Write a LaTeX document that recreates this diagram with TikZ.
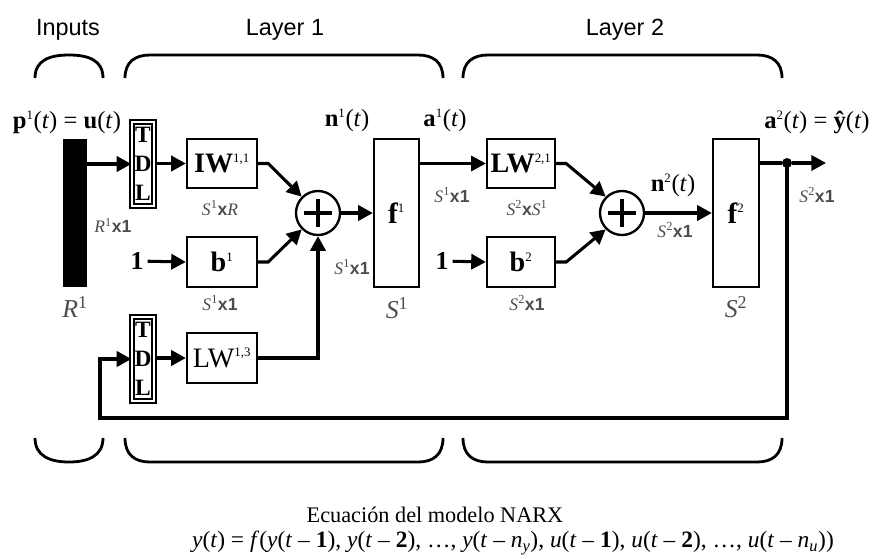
\documentclass[tikz,border=0pt]{standalone}
\usepackage{fontspec}
\setmainfont{Liberation Serif}
\setsansfont{Liberation Sans}
\usetikzlibrary{arrows.meta,calc}
\newcommand{\dimlabel}[3]{\textit{#1}\textsuperscript{#2}\textsf{\bfseries #3}}
\newcommand{\sx}[1]{\textsuperscript{\fontsize{11}{11}\selectfont\mdseries #1}}
\begin{document}
\begin{tikzpicture}[x=0.03cm,y=-0.03cm,
  wire/.style={line width=2.6pt},
  arr/.style={wire,-{Triangle[length=12.5pt,width=13pt]}},
  block/.style={draw,line width=2pt,inner sep=0pt,minimum width=2.1cm,minimum height=1.47cm,
    font=\fontsize{24}{28}\selectfont\bfseries},
  tall/.style={draw,line width=2pt,inner sep=0pt,minimum width=1.35cm,minimum height=4.44cm,
    font=\fontsize{25}{28}\selectfont\bfseries},
  tdl/.style={draw,double,line width=1.1pt,double distance=2.2pt,inner sep=0pt,
    minimum width=0.66cm,minimum height=2.52cm,align=center,
    font=\fontsize{20}{24.7}\selectfont\bfseries},
  summer/.style={draw,circle,line width=2pt,inner sep=0pt,minimum size=1.32cm},
  plus/.style={line width=2.8pt},
  brace/.style={line width=2.4pt},
  head/.style={font=\fontsize{20}{24}\selectfont\sffamily},
  sig/.style={font=\fontsize{21}{24}\selectfont},
  dim/.style={font=\fontsize{15}{17}\selectfont,text=black!70},
  big/.style={font=\fontsize{22}{24}\selectfont\itshape,text=black!70},
  one/.style={font=\fontsize{22}{24}\selectfont\bfseries}
]
\useasboundingbox (0,0) rectangle (873,558);

% headings and braces
\node[head] (hin) at (68,30) {Inputs};
\node[head] (hl1) at (285,30) {Layer 1};
\node[head] (hl2) at (625,30) {Layer 2};

\draw[brace] (35,78) .. controls (35,60) and (50,55) .. (69,55) .. controls (88,55) and (103,60) .. (103,78);
\draw[brace] (125,78) .. controls (125,62) and (135,55) .. (150,55) -- (418,55) .. controls (433,55) and (443,62) .. (443,78);
\draw[brace] (463,78) .. controls (463,62) and (473,55) .. (488,55) -- (757,55) .. controls (772,55) and (782,62) .. (782,78);

\draw[brace] (35,438) .. controls (35,456) and (50,462) .. (69,462) .. controls (88,462) and (103,456) .. (103,438);
\draw[brace] (125,438) .. controls (125,455) and (135,462) .. (150,462) -- (418,462) .. controls (433,462) and (443,455) .. (443,438);
\draw[brace] (463,438) .. controls (463,455) and (473,462) .. (488,462) -- (757,462) .. controls (772,462) and (782,455) .. (782,438);

% input vector
\node[fill=black,inner sep=0pt,minimum width=0.72cm,minimum height=4.44cm] (bar) at (75,213) {};
\node[sig] (p) at (67,122) {\textbf{p}\sx{1}(\textit{t}) = \textbf{u}(\textit{t})};
\node[big] (R) at (75,307) {R\textsuperscript{\upshape 1}};
\node[dim] (dR) at (113,225) {\dimlabel{R}{1}{x1}};

% layer 1
\node[tdl] (tdl1) at (143,164) {T\\D\\L};
\node[block] (iw) at (222,163.5) {IW\sx{1,1}};
\node[dim] (diw) at (220,208) {\dimlabel{S}{1}{x}\textit{R}};
\node[one] (one1) at (137,261) {1};
\node[block,minimum height=1.5cm] (b1) at (222,262) {b\sx{1}};
\node[dim] (db1) at (220,303) {\dimlabel{S}{1}{x1}};
\node[summer] (sum1) at (318,213) {};
\draw[plus] ($(sum1)+(-14,0)$) -- ($(sum1)+(14,0)$) ($(sum1)+(0,-14)$) -- ($(sum1)+(0,14)$);
\node[dim] (dn1) at (352,267) {\dimlabel{S}{1}{x1}};
\node[sig] (n1) at (347,120) {\textbf{n}\sx{1}(\textit{t})};
\node[tall] (f1) at (396.5,213) {f\sx{1}};
\node[big] (S1) at (397,308) {S\textsuperscript{\upshape 1}};

\node[tdl] (tdl2) at (143,359) {T\\D\\L};
\node[block,minimum height=1.5cm] (lw13) at (222,358) {\mdseries LW\sx{1,3}};

% layer 2
\node[sig] (a1) at (445,120) {\textbf{a}\sx{1}(\textit{t})};
\node[dim] (da1) at (452,195) {\dimlabel{S}{1}{x1}};
\node[block,minimum width=2.04cm] (lw21) at (521,163.5) {LW\sx{2,1}};
\node[dim] (dlw) at (527,208) {\dimlabel{S}{2}{x}\textit{S}\textsuperscript{1}};
\node[one] (one2) at (442,261) {1};
\node[block,minimum width=2.04cm,minimum height=1.5cm] (b2) at (521,262) {b\sx{2}};
\node[dim] (db2) at (527,303) {\dimlabel{S}{2}{x1}};
\node[summer] (sum2) at (622,213) {};
\draw[plus] ($(sum2)+(-14,0)$) -- ($(sum2)+(14,0)$) ($(sum2)+(0,-14)$) -- ($(sum2)+(0,14)$);
\node[sig] (n2) at (673,185) {\textbf{n}\sx{2}(\textit{t})};
\node[dim] (dn2) at (675,230) {\dimlabel{S}{2}{x1}};
\node[tall,minimum width=1.38cm] (f2) at (736,213) {f\sx{2}};
\node[big] (S2) at (736,307) {S\textsuperscript{\upshape 2}};

% output
\node[circle,fill=black,inner sep=0pt,minimum size=0.3cm] (dot) at (787,163) {};
\coordinate (out) at (826,163);
\node[sig] (a2) at (817,122) {\textbf{a}\sx{2}(\textit{t}) = \textbf{ŷ}(\textit{t})};
\node[dim] (dout) at (817,195) {\dimlabel{S}{2}{x1}};
\coordinate (fbr) at (787,418);
\coordinate (fbl) at (100,418);

% connections, layer 1
\draw[arr] (bar.east |- tdl1) -- (tdl1.west);
\draw[arr] (tdl1.east |- iw) -- (iw.west);
\draw[arr] (iw.east) -- ++(10,0) -- (sum1.north west);
\draw[arr] (one1) -- (b1.west);
\draw[arr] (b1.east) -- ++(10,0) -- (sum1.south west);
\draw[arr] (sum1.east) -- (f1.west);
\draw[arr] (tdl2.east |- lw13) -- (lw13.west);
\draw[arr] (lw13.east) -| (sum1.south);

% connections, layer 2
\draw[arr,line width=2pt] (f1.east |- lw21) -- (lw21.west);
\draw[arr] (lw21.east) -- ++(10,0) -- (sum2.north west);
\draw[arr] (one2) -- (b2.west);
\draw[arr] (b2.east) -- ++(10,0) -- (sum2.south west);
\draw[arr] (sum2.east) -- (f2.west);

% output and feedback
\draw[wire] (f2.east |- dot) -- (dot);
\draw[arr] (dot) -- (out);
\draw[arr] (dot.center) -- (fbr) -- (fbl) |- (tdl2.west);

% model equation
\node[font=\fontsize{19}{22}\selectfont] (title) at (435,515) {Ecuación del modelo NARX};
\node[font=\fontsize{20}{22}\selectfont] (eq) at (513,543) {\textit{y}(\textit{t}) = \textit{f}(\textit{y}(\textit{t} – \textbf{1}), \textit{y}(\textit{t} – \textbf{2}), …, \textit{y}(\textit{t} – \textit{n}\textsubscript{\textit{y}}), \textit{u}(\textit{t} – \textbf{1}), \textit{u}(\textit{t} – \textbf{2}), …, \textit{u}(\textit{t} – \textit{n}\textsubscript{\textit{u}}))};
\end{tikzpicture}
\end{document}
